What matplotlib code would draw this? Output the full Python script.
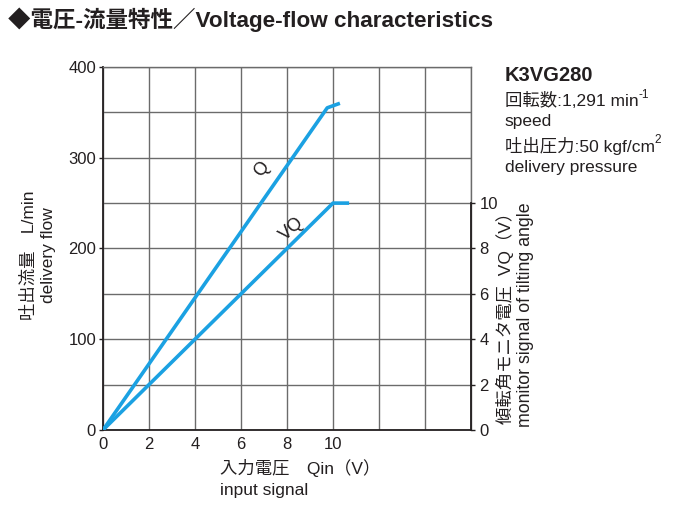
import matplotlib.pyplot as plt

plt.rcParams['font.family'] = ['Liberation Sans', 'Noto Sans CJK JP', 'DejaVu Sans']

# ---- data ----
q_in = [0, 9.75, 10.3]          # input signal (V)
q_flow = [0, 355, 360]          # delivery flow (L/min)
vq_in = [0, 10.0, 10.7]         # input signal (V)
vq_volt = [0, 10.0, 10.0]       # tilting angle monitor (V)

x_ticks = [0, 2, 4, 6, 8, 10]
y_ticks = [0, 100, 200, 300, 400]
vq_ticks = [0, 2, 4, 6, 8, 10]

blue = '#1BA1E2'
grid_col = '#6b6b6b'
txt = '#231f20'

fig = plt.figure(figsize=(6.75, 5.07), dpi=100)
ax = fig.add_axes([0.1526, 0.1519, 0.5452, 0.716])

ax.set_xlim(0, 16)
ax.set_ylim(0, 400)
ax.set_xticks(x_ticks)
ax.set_xticks([12, 14, 16], minor=True)
ax.set_yticks(y_ticks)
ax.set_yticks([50, 150, 250, 350], minor=True)
ax.grid(True, which='both', color=grid_col, linewidth=1.0)
ax.tick_params(axis='y', which='major', length=3, width=1, color=txt, labelsize=12, labelcolor=txt, pad=2)
ax.tick_params(axis='x', which='major', length=0, labelsize=12, labelcolor=txt, pad=5)
ax.tick_params(which='minor', length=0)
for s in ['top', 'right']:
    ax.spines[s].set_color(grid_col)
    ax.spines[s].set_linewidth(1.0)
for s in ['left', 'bottom']:
    ax.spines[s].set_color(txt)
    ax.spines[s].set_linewidth(1.3)

ax.plot(q_in, q_flow, color=blue, linewidth=2.6, solid_capstyle='butt', zorder=5)

ax2 = ax.twinx()
ax2.set_ylim(0, 16)
ax2.set_yticks(vq_ticks)
ax2.spines['right'].set_bounds(0, 10)
ax2.spines['right'].set_color(txt)
ax2.spines['right'].set_linewidth(1.3)
for s in ['top', 'left', 'bottom']:
    ax2.spines[s].set_visible(False)
ax2.tick_params(axis='y', length=3, width=1, color=txt, labelsize=12, labelcolor=txt, pad=3)
ax2.plot(vq_in, vq_volt, color=blue, linewidth=2.6, solid_capstyle='butt', zorder=5)

# curve labels
ax.text(6.9, 287, 'Q', rotation=52, fontsize=13, color=txt, ha='center', va='center')
ax.text(8.2, 222, 'VQ', rotation=42, fontsize=13, color=txt, ha='center', va='center')

# title
fig.text(0.012, 0.962, '◆電圧-流量特性／Voltage-flow characteristics',
         fontsize=16.2, fontweight='bold', color=txt, va='center')

# left axis label
fig.text(0.042, 0.497, '吐出流量　L/min', rotation=90, fontsize=12.5, color=txt, ha='center', va='center')
fig.text(0.072, 0.497, 'delivery flow', rotation=90, fontsize=12.5, color=txt, ha='center', va='center')

# right axis label
fig.text(0.748, 0.38, '傾転角モニタ電圧  VQ（V）', rotation=90, fontsize=12.5, color=txt, ha='center', va='center')
fig.text(0.778, 0.38, 'monitor signal of tilting angle', rotation=90, fontsize=12.8, color=txt, ha='center', va='center')

# bottom axis label
fig.text(0.326, 0.077, '入力電圧　Qin（V）', fontsize=12.5, color=txt, ha='left', va='center')
fig.text(0.326, 0.033, 'input signal', fontsize=12.5, color=txt, ha='left', va='center')

# model info
fig.text(0.748, 0.852, 'K3VG280', fontsize=14.5, fontweight='bold', color=txt, va='center')
t1 = fig.text(0.748, 0.802, '回転数:1,291 min', fontsize=12.5, color=txt, va='center')
ax.annotate('-1', xy=(1, 0.8), xycoords=t1, fontsize=8.5, color=txt,
            ha='left', va='center', annotation_clip=False)
fig.text(0.748, 0.760, 'speed', fontsize=12.5, color=txt, va='center')
t2 = fig.text(0.748, 0.713, '吐出圧力:50 kgf/cm', fontsize=12.5, color=txt, va='center')
ax.annotate('2', xy=(1, 0.8), xycoords=t2, fontsize=8.5, color=txt,
            ha='left', va='center', annotation_clip=False)
fig.text(0.748, 0.670, 'delivery pressure', fontsize=12.5, color=txt, va='center')

fig.savefig('out.png', dpi=100, facecolor='white')
